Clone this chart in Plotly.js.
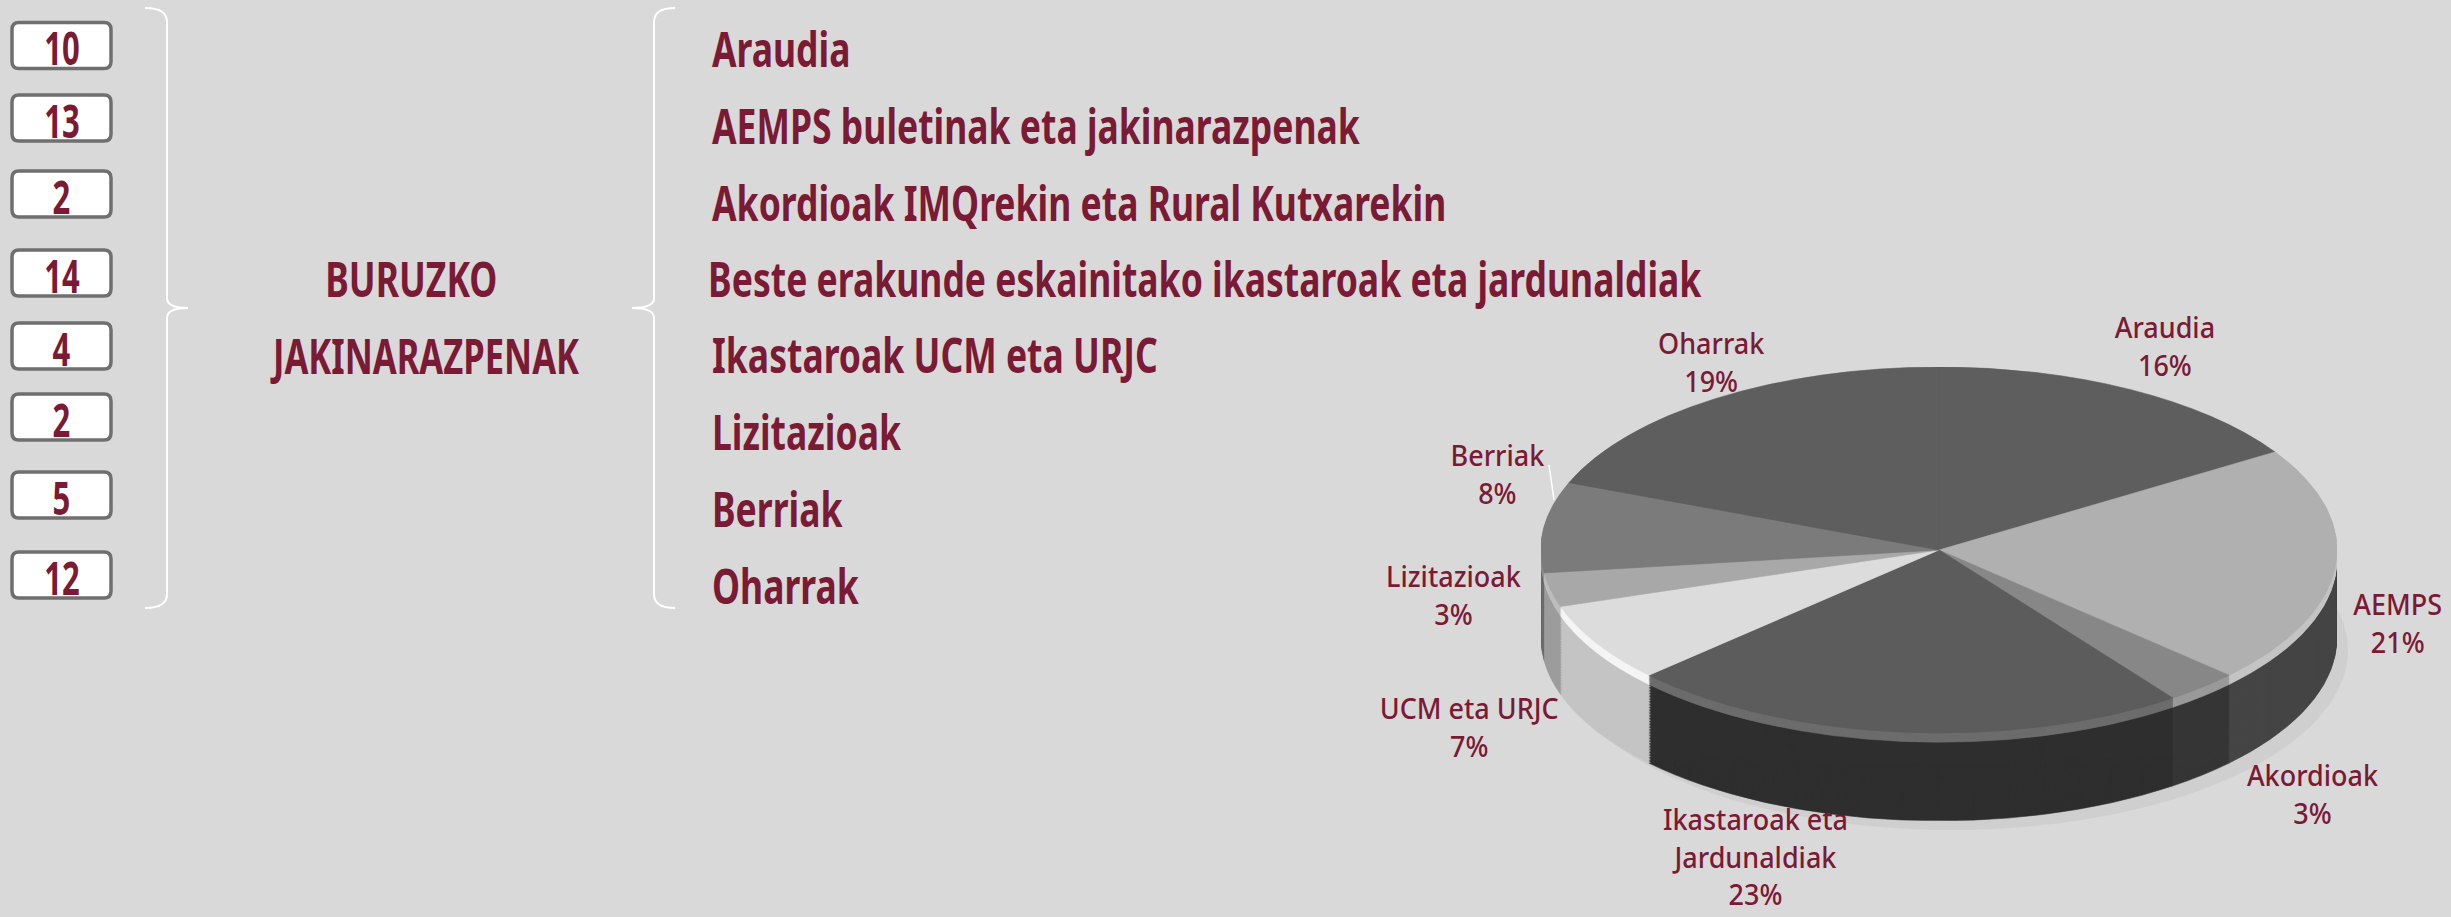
<!DOCTYPE html>
<html>
<head>
<meta charset="utf-8">
<script src="https://cdn.plot.ly/plotly-3.0.1.min.js"></script>
<style>
  html, body { margin: 0; padding: 0; background: #d9d9d9; overflow: hidden; }
  #main { position: absolute; left: 0; top: 0; width: 2451px; height: 917px; }
  #pie { position: absolute; left: 1541px; top: 367px; width: 796px; height: 987px;
         transform-origin: 0 0; transform: scaleY(0.4598); }
</style>
</head>
<body>
<div id="main"></div>
<div id="pie"></div>
<script>
// ---------- data ----------
const categories = [
  'Araudia',
  'AEMPS buletinak eta jakinarazpenak',
  'Akordioak IMQrekin eta Rural Kutxarekin',
  'Beste erakunde eskainitako ikastaroak eta jardunaldiak',
  'Ikastaroak UCM eta URJC',
  'Lizitazioak',
  'Berriak',
  'Oharrak'
];
const counts = [10, 13, 2, 14, 4, 2, 5, 12];
const groupTitle = ['BURUZKO', 'JAKINARAZPENAK'];
const pieLabels = ['Araudia', 'AEMPS', 'Akordioak', 'Ikastaroak eta<br>Jardunaldiak',
                   'UCM eta URJC', 'Lizitazioak', 'Berriak', 'Oharrak'];
const piePercents = [16, 21, 3, 23, 7, 3, 8, 19];

// ---------- style ----------
const MAROON = '#7b1a35';
const BG = '#d9d9d9';
const CONDENSED = '"Noto Sans", "DejaVu Sans", sans-serif';
const LABELFONT = '"Noto Sans", "DejaVu Sans", sans-serif';
const topColors  = ['#5e5e5e', '#b0b0b0', '#878787', '#5c5c5c', '#dcdcdc', '#a8a8a8', '#7b7b7b', '#5e5e5e'];
const sideColors = ['#3a3a3a', '#454545', '#363636', '#2f2f2f', '#c4c4c4', '#9c9c9c', '#6a6a6a', '#4a4a4a'];
const rimColors  = ['#6e6e6e', '#c4c4c4', '#9a9a9a', '#6c6c6c', '#f4f4f4', '#bdbdbd', '#8e8e8e', '#6e6e6e'];

// layout positions (pixels)
const boxY = [45.5, 118, 194, 273, 346, 417, 495, 575];
const listY = [46, 123, 200, 276, 352, 429, 506, 583];
const listX = [710, 710, 710, 706, 710, 710, 710, 710];
const pieLabelPos = [[2165, 345], [2397, 622], [2313, 793], [1755, 856],
                     [1469, 726], [1454, 594], [1498, 473], [1711, 361]];

// ---------- main chart (texts, boxes, braces) ----------
const shapes = [];
const annotations = [];
const squeeze = {};   // annotation index -> [scaleX, origin]
const bigFont = (size) => ({ family: CONDENSED, size: size, color: MAROON, weight: 'bold' });
counts.forEach((c, i) => {
  const x0 = 12, x1 = 111, y0 = boxY[i] - 23, y1 = boxY[i] + 23, r = 7;
  shapes.push({
    type: 'path', xref: 'x', yref: 'y',
    path: `M ${x0 + r} ${y0} L ${x1 - r} ${y0} Q ${x1} ${y0} ${x1} ${y0 + r} L ${x1} ${y1 - r} Q ${x1} ${y1} ${x1 - r} ${y1} L ${x0 + r} ${y1} Q ${x0} ${y1} ${x0} ${y1 - r} L ${x0} ${y0 + r} Q ${x0} ${y0} ${x0 + r} ${y0} Z`,
    fillcolor: '#ffffff', line: { color: '#6f6f6f', width: 3.5 }
  });
  squeeze[annotations.length] = [0.66, 'center'];
  annotations.push({
    x: (x0 + x1) / 2, y: boxY[i] + 1.5, xref: 'x', yref: 'y', text: String(c), showarrow: false,
    xanchor: 'center', yanchor: 'middle', font: bigFont(47)
  });
});
categories.forEach((t, i) => {
  squeeze[annotations.length] = [0.74, 'left center'];
  annotations.push({
    x: listX[i], y: listY[i] + 2, xref: 'x', yref: 'y', text: t, showarrow: false,
    xanchor: 'left', yanchor: 'middle', font: bigFont(48)
  });
});
squeeze[annotations.length] = [0.74, 'center'];
annotations.push({
  x: 411, y: 278, xref: 'x', yref: 'y', text: groupTitle[0], showarrow: false,
  xanchor: 'center', yanchor: 'middle', font: bigFont(48)
});
squeeze[annotations.length] = [0.72, 'center'];
annotations.push({
  x: 424, y: 355, xref: 'x', yref: 'y', text: groupTitle[1], showarrow: false,
  xanchor: 'center', yanchor: 'middle', font: bigFont(48)
});
// braces
shapes.push({
  type: 'path', xref: 'x', yref: 'y', line: { color: '#ffffff', width: 2 },
  path: 'M 145 8 Q 167 8 167 22 L 167 298 Q 167 308 188 308 Q 167 308 167 318 L 167 594 Q 167 608 145 608'
});
shapes.push({
  type: 'path', xref: 'x', yref: 'y', line: { color: '#ffffff', width: 2 },
  path: 'M 675 8 Q 654 8 654 22 L 654 298 Q 654 308 632 308 Q 654 308 654 318 L 654 594 Q 654 608 675 608'
});
// Berriak leader line
shapes.push({
  type: 'line', xref: 'x', yref: 'y', x0: 1549, y0: 465, x1: 1554, y1: 500,
  line: { color: '#ffffff', width: 1.5 }
});
// soft shadow
shapes.push({
  type: 'circle', xref: 'x', yref: 'y', x0: 1556, x1: 2348, y0: 470, y1: 830,
  fillcolor: 'rgba(0,0,0,0.045)', line: { width: 0 }, layer: 'below'
});

pieLabels.forEach((l, i) => {
  squeeze[annotations.length] = [0.93, 'center'];
  annotations.push({
    x: pieLabelPos[i][0], y: pieLabelPos[i][1], xref: 'x', yref: 'y',
    text: l + '<br>' + piePercents[i] + '%', showarrow: false,
    xanchor: 'center', yanchor: 'middle', align: 'center',
    font: { family: LABELFONT, size: 29, color: MAROON, weight: 500 }
  });
});

Plotly.newPlot('main', [], {
  width: 2451, height: 917,
  margin: { l: 0, r: 0, t: 0, b: 0 },
  paper_bgcolor: BG, plot_bgcolor: BG,
  xaxis: { range: [0, 2451], visible: false, fixedrange: true },
  yaxis: { range: [917, 0], visible: false, fixedrange: true },
  showlegend: false,
  shapes: shapes, annotations: annotations
}, { staticPlot: true, displayModeBar: false }).then(() => {
  // condense the wide fallback font horizontally to match the narrow display face
  Object.keys(squeeze).forEach(k => {
    const g = document.querySelector('#main g.annotation[data-index="' + k + '"] text.annotation-text');
    if (!g) return;
    g.style.transformBox = 'fill-box';
    g.style.transformOrigin = squeeze[k][1];
    g.style.transform = 'scaleX(' + squeeze[k][0] + ')';
  });
});

// ---------- extruded pie (drawn by stacked pie traces, squashed by CSS) ----------
const W = 796, DEPTH = 191, H = W + DEPTH;
function pieLayer(offset, colors) {
  return {
    type: 'pie', values: piePercents, labels: pieLabels, sort: false,
    direction: 'clockwise', rotation: 0, textinfo: 'none', hoverinfo: 'skip',
    showlegend: false,
    marker: { colors: colors, line: { color: colors, width: 0.8 } },
    domain: { x: [0, 1], y: [(DEPTH - offset) / H, (H - offset) / H] }
  };
}
const traces = [];
const N = 50;
for (let i = N; i >= 0; i--) {
  const off = 22 + (DEPTH - 22) * i / N;
  traces.push(pieLayer(off, sideColors));
}
for (let o = 20; o >= 2; o -= 2) traces.push(pieLayer(o, rimColors));
traces.push(pieLayer(0, topColors));

Plotly.newPlot('pie', traces, {
  width: W, height: H,
  margin: { l: 0, r: 0, t: 0, b: 0 },
  paper_bgcolor: 'rgba(0,0,0,0)', plot_bgcolor: 'rgba(0,0,0,0)',
  showlegend: false
}, { staticPlot: true, displayModeBar: false });
</script>
</body>
</html>
